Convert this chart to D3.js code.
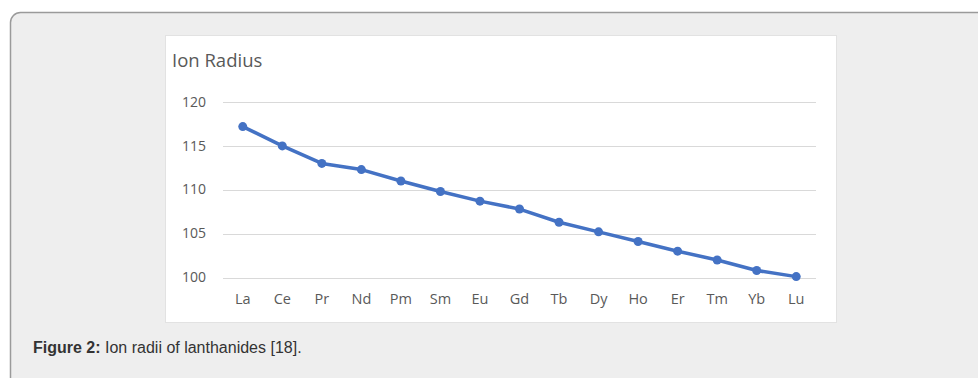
<!DOCTYPE html>
<html>
<head>
<meta charset="utf-8">
<script src="https://cdn.jsdelivr.net/npm/d3@7"></script>
<style>
  html, body { margin: 0; padding: 0; background: #ffffff; }
  svg { display: block; }
</style>
</head>
<body>
<svg id="fig" width="978" height="378"></svg>
<script>
// Lanthanide ion radii (pm)
const elements = ["La","Ce","Pr","Nd","Pm","Sm","Eu","Gd","Tb","Dy","Ho","Er","Tm","Yb","Lu"];
const radii = [117.2,115.0,113.0,112.3,111.0,109.8,108.7,107.8,106.3,105.2,104.1,103.0,102.0,100.8,100.1];
const yTicks = [100,105,110,115,120];
const chartTitle = "Ion Radius";
const captionLabel = "Figure 2:";
const captionText = " Ion radii of lanthanides [18].";

const svg = d3.select("#fig");
const chartFont = "'Open Sans', 'Noto Sans', sans-serif";

// Figure panel with rounded top-left corner, open to the right and bottom
svg.append("rect")
  .attr("x", 10.5).attr("y", 12.5)
  .attr("width", 1100).attr("height", 500)
  .attr("rx", 10).attr("ry", 10)
  .attr("fill", "#eeeeee")
  .attr("stroke", "#9a9a9a")
  .attr("stroke-width", 1.5);

// White chart area
svg.append("rect")
  .attr("x", 165.5).attr("y", 35.5)
  .attr("width", 671).attr("height", 287)
  .attr("fill", "#ffffff")
  .attr("stroke", "#e2e2e2")
  .attr("stroke-width", 1);

const plot = { left: 223, right: 816, top: 102, bottom: 277.5 };

const x = d3.scaleBand()
  .domain(elements)
  .range([plot.left, plot.right]);

const y = d3.scaleLinear()
  .domain([100, 120])
  .range([plot.bottom, plot.top]);

// Gridlines
svg.append("g")
  .selectAll("line")
  .data(yTicks)
  .join("line")
  .attr("x1", plot.left).attr("x2", plot.right)
  .attr("y1", d => Math.round(y(d)) + 0.5)
  .attr("y2", d => Math.round(y(d)) + 0.5)
  .attr("stroke", "#d9d9d9")
  .attr("stroke-width", 1);

// Y axis labels
const yAxis = d3.axisLeft(y).tickValues(yTicks).tickSize(0).tickPadding(0);
const gy = svg.append("g")
  .attr("transform", `translate(${206},0)`)
  .call(yAxis);
gy.select(".domain").remove();
gy.selectAll("text")
  .attr("fill", "#595959")
  .attr("dy", "0.3em")
  .style("font-family", chartFont)
  .style("font-size", "14px");

// X axis labels
const xAxis = d3.axisBottom(x).tickSize(0).tickPadding(0);
const gx = svg.append("g")
  .attr("transform", `translate(0,${294})`)
  .call(xAxis);
gx.select(".domain").remove();
gx.selectAll("text")
  .attr("fill", "#595959")
  .style("font-family", chartFont)
  .style("font-size", "14.5px");

// Chart title
svg.append("text")
  .attr("x", 172).attr("y", 67)
  .attr("fill", "#595959")
  .style("font-family", chartFont)
  .style("font-size", "18.5px")
  .text(chartTitle);

// Line series
const cx = d => x(d) + x.bandwidth() / 2;
const line = d3.line()
  .x((d, i) => cx(elements[i]))
  .y(d => y(d));

svg.append("path")
  .datum(radii)
  .attr("d", line)
  .attr("fill", "none")
  .attr("stroke", "#4472c4")
  .attr("stroke-width", 3.5)
  .attr("stroke-linejoin", "round")
  .attr("stroke-linecap", "round");

svg.append("g")
  .selectAll("circle")
  .data(radii)
  .join("circle")
  .attr("cx", (d, i) => cx(elements[i]))
  .attr("cy", d => y(d))
  .attr("r", 4.5)
  .attr("fill", "#4472c4");

// Caption
const cap = svg.append("text")
  .attr("x", 33).attr("y", 353)
  .attr("fill", "#333333")
  .style("font-family", "'Liberation Sans', Arial, sans-serif")
  .style("font-size", "16px");
cap.append("tspan").attr("font-weight", "bold").text(captionLabel);
cap.append("tspan").text(captionText);
</script>
</body>
</html>
